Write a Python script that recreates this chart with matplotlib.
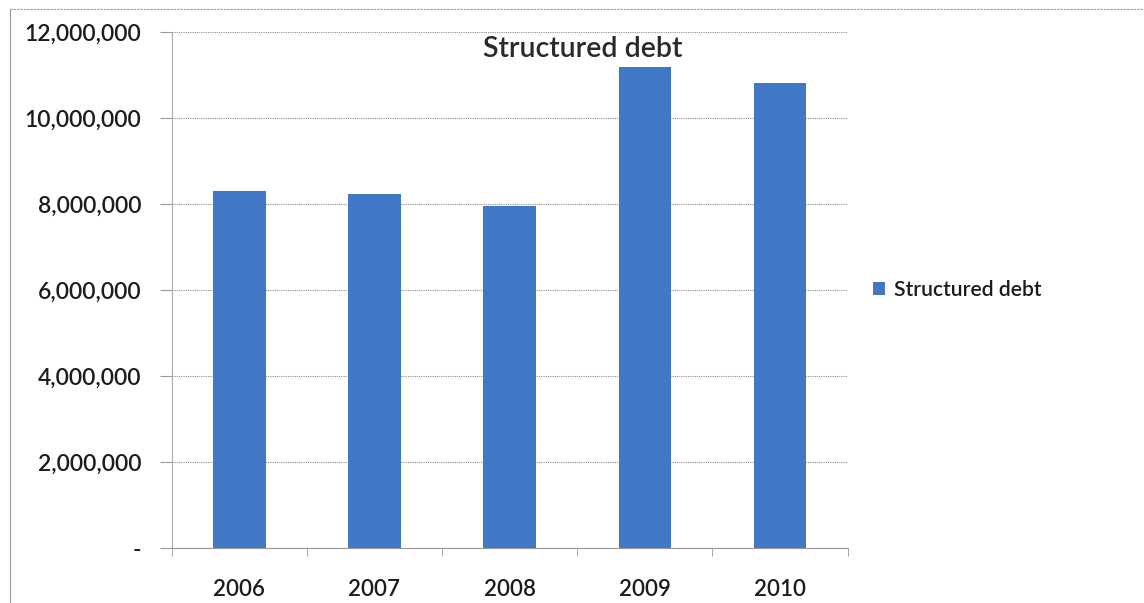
import matplotlib.pyplot as plt
import matplotlib.ticker as mticker
import numpy as np

years = ['2006', '2007', '2008', '2009', '2010']
structured_debt = [8300000, 8240000, 7960000, 11190000, 10800000]

plt.rcParams['font.family'] = ['Lato', 'DejaVu Sans']

fig = plt.figure(figsize=(11.44, 6.03), dpi=100)
ax = fig.add_axes([0.150, 0.0912, 0.591, 0.856])

x = np.arange(len(years))
ax.bar(x, structured_debt, width=0.39, color='#4277c6', label='Structured debt', zorder=2)

ax.set_xlim(-0.5, len(years) - 0.5)
ax.set_ylim(0, 12000000)
ax.yaxis.set_major_locator(mticker.MultipleLocator(2000000))
ax.yaxis.set_major_formatter(mticker.FuncFormatter(lambda v, p: '-' if v == 0 else f'{v:,.0f}'))
ax.grid(axis='y', color='#8c8c8c', linestyle=(0, (1, 1)), linewidth=0.8, zorder=0)

ax.set_xticks(x)
ax.set_xticklabels(years)
ax.set_xticks(np.arange(-0.5, len(years)), minor=True)
ax.tick_params(axis='x', which='major', length=0, pad=22, labelsize=16, labelcolor='#1c1c1c')
ax.tick_params(axis='x', which='minor', length=6, color='#999999', direction='out')
ax.tick_params(axis='y', length=9, color='#999999', pad=13, labelsize=16.5, labelcolor='#1c1c1c')
for lbl in ax.get_xticklabels() + ax.get_yticklabels():
    lbl.set_fontweight('semibold')

for side in ['top', 'right']:
    ax.spines[side].set_visible(False)
ax.spines['left'].set_color('#aaaaaa')
ax.spines['bottom'].set_color('#999999')
ax.spines['left'].set_linewidth(0.8)
ax.spines['bottom'].set_linewidth(0.8)

# chart title sits inside the plot area
fig.text(583 / 1144, 1 - 49 / 603, 'Structured debt', ha='center', va='center',
         fontsize=20.5, color='#2a2a2a', fontweight='semibold')

leg = ax.legend(loc='center left', bbox_to_anchor=(1.01, 0.5), frameon=False,
                prop={'size': 15.2, 'weight': 'semibold'},
                handlelength=0.55, handleheight=0.55, handletextpad=0.4, labelcolor='#1c1c1c')

# outer frame of the chart area
fig.add_artist(plt.Line2D([10 / 1144, 10 / 1144], [0, 1 - 9 / 603], color='#9a9a9a', linewidth=0.8))
fig.add_artist(plt.Line2D([10 / 1144, 1], [1 - 9 / 603, 1 - 9 / 603], color='#9a9a9a', linewidth=0.8,
                          linestyle=(0, (2, 1))))

fig.savefig('out.png', dpi=100)
